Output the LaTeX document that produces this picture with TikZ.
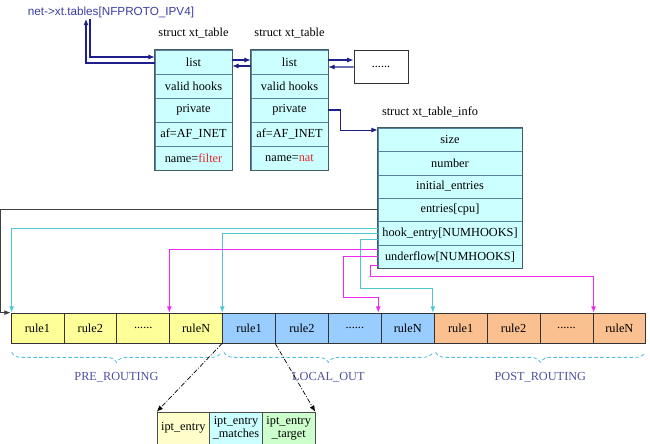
\documentclass[tikz,border=0pt]{standalone}
\usepackage{fontspec}
\setmainfont{Liberation Serif}
\newfontfamily\titlefont{Liberation Sans}
\usetikzlibrary{positioning}
\usetikzlibrary{arrows.meta}
\usetikzlibrary{decorations.pathreplacing}

\definecolor{titleblue}{RGB}{60,60,160}
\definecolor{linkblue}{RGB}{30,30,140}
\definecolor{tblfill}{RGB}{204,255,255}
\definecolor{rowline}{RGB}{90,130,160}
\definecolor{tblborder}{RGB}{70,90,100}
\definecolor{namered}{RGB}{230,40,40}
\definecolor{hookcyan}{RGB}{80,200,210}
\definecolor{uflowpink}{RGB}{240,40,240}
\definecolor{prefill}{RGB}{255,255,153}
\definecolor{locfill}{RGB}{153,204,255}
\definecolor{postfill}{RGB}{250,192,143}
\definecolor{entfill}{RGB}{255,255,204}
\definecolor{matchfill}{RGB}{204,255,255}
\definecolor{targfill}{RGB}{204,255,204}
\definecolor{bracecyan}{RGB}{80,190,220}
\definecolor{seglabelcol}{RGB}{80,80,160}

\newcommand{\moredots}{......}

\tikzset{
  >={Latex[length=1.9mm,width=1.5mm]},
  structname/.style={inner sep=1pt},
  field/.style={draw=rowline, fill=tblfill, inner sep=0pt,
    minimum width=23.1mm, minimum height=7.2mm},
  infofield/.style={field, minimum width=43.2mm, minimum height=7.02mm},
  outer/.style={draw=tblborder, line width=0.8pt},
  rulecell/.style={draw=black!80, inner sep=0pt, line width=0.6pt,
    minimum width=15.87mm, minimum height=9mm},
  entbox/.style={draw=black!70, inner sep=0pt, align=center,
    minimum width=15.8mm, minimum height=9.6mm,
    font=\fontsize{10.5}{11}\selectfont},
  link/.style={draw=linkblue, line width=0.9pt},
  entline/.style={draw=black!75, line width=0.8pt},
  hookline/.style={draw=hookcyan, line width=0.8pt},
  uflowline/.style={draw=uflowpink, line width=0.8pt},
  segbrace/.style={draw=bracecyan, dash pattern=on 3pt off 2pt, line width=0.7pt,
    decorate, decoration={brace, mirror, amplitude=3mm}},
  seglabel/.style={text=seglabelcol, inner sep=1pt},
  detail/.style={draw=black, dash pattern=on 4pt off 1.5pt on 0.8pt off 1.5pt, line width=0.6pt}
}

\begin{document}
\begin{tikzpicture}[x=0.3mm,y=-0.3mm, font=\fontsize{10.5}{11.5}\selectfont]
\useasboundingbox (0,0) rectangle (650,444);

\node[font=\titlefont\fontsize{10}{12}\selectfont, text=titleblue, inner sep=1pt]
  (xttables) at (111,12) {net->xt.tables[NFPROTO\_IPV4]};

% the two xt_table structs
\foreach \tbl/\x in {filter/193.5, nat/289.5} {
  \node[structname] (\tbl-title) at (\x,33) {struct xt\_table};
  \foreach \fld/\txt [count=\i] in {list/list, hooks/valid hooks, priv/private,
      af/af=AF\_INET, name/name=\textcolor{namered}{\tbl}}
    \node[field] (\tbl-\fld) at (\x,{50+24*(\i-0.5)}) {\txt};
  \draw[outer] (\tbl-list.north west) rectangle (\tbl-name.south east);
}
\node[draw=black!80, line width=0.8pt, minimum width=16.2mm, minimum height=9.9mm]
  (more) at (381,66.5) {\moredots};

% xt_table_info
\node[structname] (info-title) at (430,112) {struct xt\_table\_info};
\foreach \fld/\txt [count=\i] in {size/size, num/number, init/initial\_entries,
    entries/entries[cpu], hook/hook\_entry[NUMHOOKS], under/underflow[NUMHOOKS]}
  \node[infofield] (info-\fld) at (450,{128+23.4*(\i-0.5)}) {\txt};
\draw[outer] (info-size.north west) rectangle (info-under.south east);

% rules of the three chains
\foreach \txt/\c [count=\i] in {rule1/prefill, rule2/prefill, \moredots/prefill, ruleN/prefill,
    rule1/locfill, rule2/locfill, \moredots/locfill, ruleN/locfill,
    rule1/postfill, rule2/postfill, \moredots/postfill, ruleN/postfill}
  \node[rulecell, fill=\c] (r\i) at ({11+52.9*(\i-0.5)},328) {\txt};

% one rule in detail
\node[entbox, fill=entfill] (b1) at (183.3,428) {ipt\_entry};
\node[entbox, fill=matchfill] (b2) at (236,428) {ipt\_entry\\\_matches};
\node[entbox, fill=targfill] (b3) at (288.7,428) {ipt\_entry\\\_target};

% list links
\draw[link,->] ([xshift=-6.3mm]xttables.south) |- ([yshift=1.5mm]filter-list.west);
\draw[link,->] ([yshift=-0.3mm]filter-list.west) -| ([xshift=-7.5mm]xttables.south);
\draw[link,->] ([yshift=0.6mm]filter-list.east) -- ([yshift=0.6mm]nat-list.west);
\draw[link,->] ([yshift=-1.2mm]nat-list.west) -- ([yshift=-1.2mm]filter-list.east);
\draw[link,->] ([yshift=0.6mm]nat-list.east) -- ([yshift=1.95mm]more.west);
\draw[link,->] ([yshift=-0.15mm]more.west) -- ([yshift=-1.5mm]nat-list.east);
\draw[link,->] (nat-priv.east) -- ++(12,0) |- ([yshift=2.9mm]info-size.west);

% entries, hook_entry and underflow
\draw[entline,->] (info-entries.west) -| ([xshift=-3mm]r1.north west) -- (r1.north west);
\draw[hookline,->] ([yshift=1.3mm]info-hook.west) -| ([xshift=0.3mm]r1.north west);
\draw[hookline,->] (info-hook.west) -| (r5.north west);
\draw[hookline,->] ([yshift=-2mm]info-hook.west) -- ++(-17,0) -- ++(0,48)
  -| ([xshift=-0.3mm]r9.north west);
\draw[uflowline,->] ([yshift=2.3mm]info-under.west) -| (r4.north west);
\draw[uflowline,->] (info-under.west) -- ++(-34,0) -- ++(0,41)
  -| ([xshift=-0.8mm]r8.north west);
\draw[uflowline,->] ([yshift=-2.5mm]info-under.west) -- ++(-7,0) -- ++(0,11)
  -| ([xshift=0.3mm]r12.north west);

% chain braces
\draw[segbrace] ([yshift=-2.7mm,xshift=0.3mm]r1.south west) -- ([yshift=-2.7mm,xshift=-0.5mm]r4.south east)
  node[seglabel, midway, below=5.4mm] (pre-label) {PRE\_ROUTING};
\draw[segbrace] ([yshift=-2.7mm,xshift=0.5mm]r5.south west) -- ([yshift=-2.7mm,xshift=-0.5mm]r8.south east)
  node[seglabel, midway, below=5.4mm] (loc-label) {LOCAL\_OUT};
\draw[segbrace] ([yshift=-2.7mm,xshift=0.5mm]r9.south west) -- ([yshift=-2.7mm,xshift=-0.3mm]r12.south east)
  node[seglabel, midway, below=5.4mm] (post-label) {POST\_ROUTING};

\draw[detail,->] (r5.south west) -- (b1.north west);
\draw[detail,->] (r6.south west) -- (b3.north east);
\end{tikzpicture}
\end{document}
